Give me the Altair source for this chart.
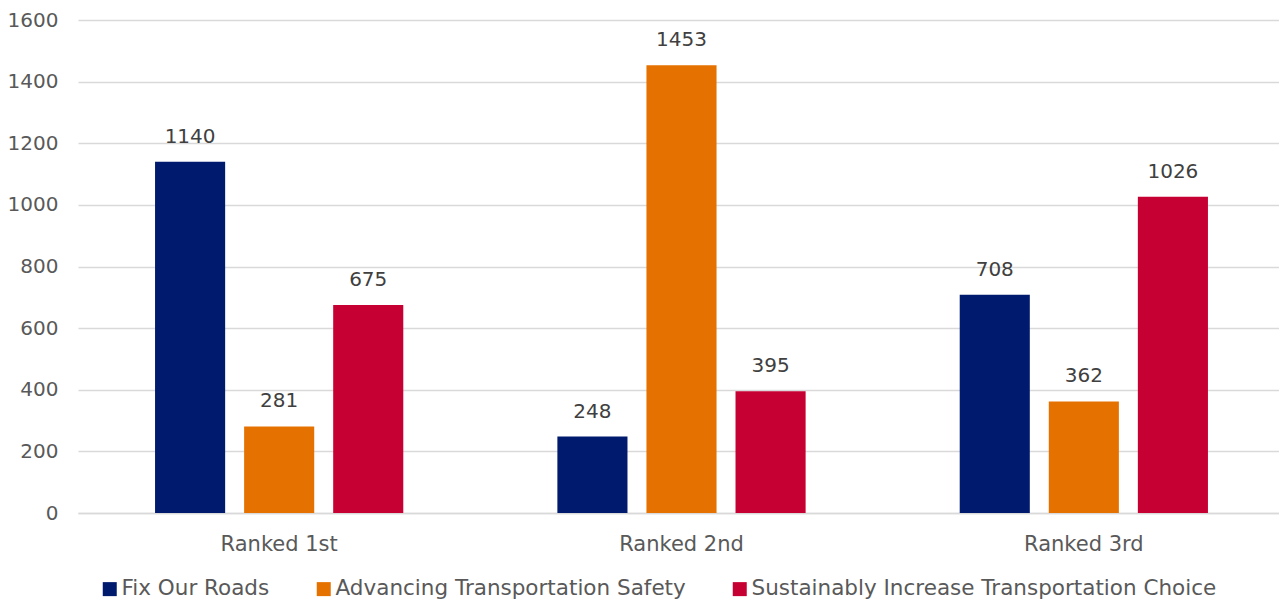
import altair as alt
import pandas as pd

categories = ["Ranked 1st", "Ranked 2nd", "Ranked 3rd"]
series = ["Fix Our Roads", "Advancing Transportation Safety", "Sustainably Increase Transportation Choice"]
fix_roads = [1140, 248, 708]
safety = [281, 1453, 362]
choice = [675, 395, 1026]
colors = ["#001A6E", "#E57200", "#C60032"]

rows = []
for s, vals in zip(series, [fix_roads, safety, choice]):
    for c, v in zip(categories, vals):
        rows.append({"cat": c, "series": s, "value": v})
df = pd.DataFrame(rows)

FONT = "DejaVu Sans"
FS = 20

base = alt.Chart(df).encode(
    x=alt.X("cat:N", sort=categories, title=None,
            scale=alt.Scale(paddingInner=0.383, paddingOuter=0.1915, range=[0, 1207]),
            axis=alt.Axis(labelAngle=0, labelFontSize=21, labelColor="#595959",
                          labelFont=FONT, ticks=False, domainColor="#d9d9d9",
                          domainWidth=1.5, labelPadding=20, grid=False)),
    xOffset=alt.XOffset("series:N", sort=series,
                        scale=alt.Scale(paddingInner=0.213, paddingOuter=0)),
)

bars = base.mark_bar().encode(
    y=alt.Y("value:Q", title=None,
            scale=alt.Scale(domain=[0, 1600], nice=False),
            axis=alt.Axis(values=list(range(0, 1601, 200)), format="d", labelFontSize=FS,
                          labelColor="#595959", labelFont=FONT, ticks=False,
                          domain=False, gridColor="#d9d9d9", gridWidth=1.5,
                          labelPadding=20)),
    color=alt.Color("series:N", sort=series,
                    scale=alt.Scale(domain=series, range=colors),
                    legend=alt.Legend(title=None, orient="none", direction="horizontal",
                                      legendX=21, legendY=558, symbolType="square",
                                      symbolSize=196, symbolStrokeWidth=0,
                                      labelFontSize=21.5, labelFont=FONT,
                                      labelColor="#595959", columnPadding=43,
                                      labelOffset=1, labelLimit=700)),
)

labels = base.mark_text(dy=-15, baseline="bottom", fontSize=FS, font=FONT,
                        color="#404040").encode(
    y=alt.Y("value:Q"),
    text=alt.Text("value:Q"),
)

chart = alt.layer(bars, labels).properties(
    width=1201, height=493,
    background="white",
    autosize=alt.AutoSizeParams(type="none"),
    padding={"left": 70, "top": 12, "right": 0, "bottom": 88},
).configure_view(stroke=None, strokeWidth=0)

chart.save("out.html", embed_options={"renderer": "svg", "actions": False})
